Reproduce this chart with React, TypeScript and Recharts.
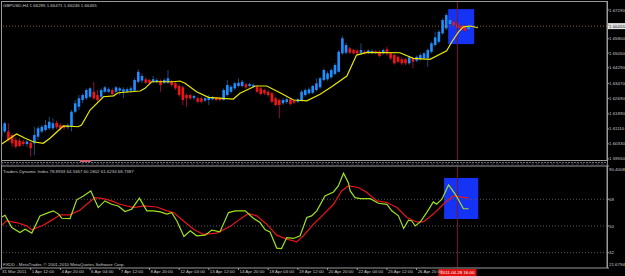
import React from 'react'
import { ComposedChart, Bar, Line, XAxis, YAxis, ReferenceArea, ReferenceLine } from 'recharts'

// GBPUSD H4 candles, 31 Mar 2011 -> 28 Apr 2011
const opens = [
  1.6070, 1.6097, 1.6097, 1.6079, 1.6053, 1.6050, 1.6045, 1.6032, 1.6039, 1.6036,
  1.6070, 1.6097, 1.6105, 1.6114, 1.6114, 1.6143, 1.6131, 1.6126, 1.6119, 1.6126,
  1.6200, 1.6226, 1.6261, 1.6270, 1.6278, 1.6304, 1.6287, 1.6278, 1.6304, 1.6304,
  1.6313, 1.6304, 1.6310, 1.6304, 1.6304, 1.6310, 1.6310, 1.6356, 1.6362, 1.6369,
  1.6365, 1.6355, 1.6355, 1.6362, 1.6351, 1.6351, 1.6356, 1.6348, 1.6334, 1.6327,
  1.6287, 1.6287, 1.6272, 1.6270, 1.6270, 1.6258, 1.6261, 1.6265, 1.6272, 1.6270,
  1.6261, 1.6287, 1.6304, 1.6322, 1.6334, 1.6334, 1.6343, 1.6334, 1.6330, 1.6330,
  1.6322, 1.6313, 1.6304, 1.6296, 1.6270, 1.6261, 1.6244, 1.6251, 1.6265, 1.6258,
  1.6252, 1.6261, 1.6287, 1.6296, 1.6299, 1.6313, 1.6327, 1.6365, 1.6369, 1.6379,
  1.6396, 1.6408, 1.6504, 1.6507, 1.6530, 1.6521, 1.6518, 1.6507, 1.6512, 1.6507,
  1.6507, 1.6514, 1.6512, 1.6504, 1.6525, 1.6504, 1.6495, 1.6486, 1.6473, 1.6473,
  1.6452, 1.6478, 1.6466, 1.6473, 1.6478, 1.6478, 1.6512, 1.6547, 1.6564, 1.6608,
  1.6634, 1.6656, 1.6668, 1.6660, 1.6646, 1.6646, 1.66295,
]
const highs = [
  1.6131, 1.6148, 1.6140, 1.6088, 1.6070, 1.6062, 1.6053, 1.6053, 1.6045, 1.6122,
  1.6126, 1.6131, 1.6157, 1.6174, 1.6166, 1.6154, 1.6140, 1.6133, 1.6140, 1.6209,
  1.6261, 1.6287, 1.6296, 1.6322, 1.6327, 1.6356, 1.6313, 1.6322, 1.6334, 1.6327,
  1.6322, 1.6334, 1.6330, 1.6327, 1.6327, 1.6334, 1.6374, 1.6421, 1.6400, 1.6379,
  1.6372, 1.6386, 1.6374, 1.6369, 1.6374, 1.6417, 1.6365, 1.6356, 1.6344, 1.6334,
  1.6296, 1.6296, 1.6289, 1.6278, 1.6278, 1.6278, 1.6287, 1.6282, 1.6278, 1.6278,
  1.6322, 1.6365, 1.6339, 1.6356, 1.6374, 1.6365, 1.6351, 1.6351, 1.6348, 1.6339,
  1.6330, 1.6320, 1.6313, 1.6303, 1.6278, 1.6268, 1.6270, 1.6275, 1.6272, 1.6265,
  1.6272, 1.6313, 1.6322, 1.6327, 1.6339, 1.6374, 1.6382, 1.6426, 1.6410, 1.6427,
  1.6452, 1.6521, 1.6594, 1.6559, 1.6538, 1.6528, 1.6525, 1.6556, 1.6521, 1.6525,
  1.6525, 1.6521, 1.6521, 1.6528, 1.6538, 1.6512, 1.6504, 1.6493, 1.6483, 1.6479,
  1.6490, 1.6486, 1.6493, 1.6504, 1.6512, 1.6530, 1.6564, 1.6616, 1.6625, 1.6686,
  1.6712, 1.6686, 1.6677, 1.6667, 1.6653, 1.6653, 1.66471,
]
const lows = [
  1.6062, 1.6088, 1.6045, 1.6018, 1.6010, 1.6015, 1.6022, 1.6018, 1.5966, 1.5975,
  1.6053, 1.6088, 1.6097, 1.6105, 1.6105, 1.6109, 1.6102, 1.6105, 1.6109, 1.6097,
  1.6192, 1.6209, 1.6244, 1.6261, 1.6270, 1.6261, 1.6252, 1.6270, 1.6296, 1.6296,
  1.6287, 1.6296, 1.6287, 1.6270, 1.6296, 1.6299, 1.6304, 1.6348, 1.6348, 1.6344,
  1.6344, 1.6348, 1.6348, 1.6304, 1.6344, 1.6344, 1.6330, 1.6313, 1.6278, 1.6235,
  1.6226, 1.6261, 1.6261, 1.6244, 1.6244, 1.6251, 1.6235, 1.6258, 1.6254, 1.6254,
  1.6258, 1.6278, 1.6296, 1.6313, 1.6327, 1.6327, 1.6320, 1.6327, 1.6323, 1.6296,
  1.6285, 1.6287, 1.6278, 1.6244, 1.6230, 1.6166, 1.6235, 1.6240, 1.6233, 1.6240,
  1.6244, 1.6254, 1.6278, 1.6289, 1.6292, 1.6306, 1.6320, 1.6358, 1.6362, 1.6372,
  1.6389, 1.6403, 1.6495, 1.6500, 1.6500, 1.6497, 1.6497, 1.6495, 1.6497, 1.6500,
  1.6500, 1.6500, 1.6483, 1.6497, 1.6493, 1.6469, 1.6445, 1.6452, 1.6443, 1.6441,
  1.6445, 1.6426, 1.6459, 1.6466, 1.6469, 1.6434, 1.6504, 1.6538, 1.6556, 1.6601,
  1.6625, 1.6649, 1.6642, 1.6628, 1.6622, 1.6615, 1.66246,
]
const closes = [
  1.6122, 1.6140, 1.6053, 1.6036, 1.6018, 1.6022, 1.6032, 1.6045, 1.6010, 1.6079,
  1.6114, 1.6122, 1.6131, 1.6148, 1.6140, 1.6119, 1.6114, 1.6116, 1.6129, 1.6200,
  1.6244, 1.6270, 1.6287, 1.6313, 1.6322, 1.6270, 1.6261, 1.6313, 1.6327, 1.6317,
  1.6292, 1.6327, 1.6322, 1.6317, 1.6317, 1.6322, 1.6365, 1.6408, 1.6386, 1.6351,
  1.6351, 1.6369, 1.6365, 1.6339, 1.6365, 1.6374, 1.6339, 1.6322, 1.6287, 1.6261,
  1.6270, 1.6270, 1.6282, 1.6252, 1.6252, 1.6270, 1.6278, 1.6275, 1.6261, 1.6261,
  1.6313, 1.6339, 1.6330, 1.6348, 1.6351, 1.6356, 1.6327, 1.6344, 1.6339, 1.6304,
  1.6292, 1.6296, 1.6287, 1.6252, 1.6235, 1.6235, 1.6261, 1.6265, 1.6240, 1.6247,
  1.6265, 1.6304, 1.6313, 1.6317, 1.6334, 1.6348, 1.6374, 1.6417, 1.6400, 1.6417,
  1.6443, 1.6512, 1.6582, 1.6547, 1.6507, 1.6504, 1.6504, 1.6521, 1.6504, 1.6518,
  1.6516, 1.6507, 1.6490, 1.6521, 1.6504, 1.6478, 1.6452, 1.6460, 1.6452, 1.6452,
  1.6483, 1.6460, 1.6486, 1.6495, 1.6504, 1.6521, 1.6556, 1.6587, 1.6616, 1.6677,
  1.6703, 1.6677, 1.6651, 1.6634, 1.6628, 1.6622, 1.66455,
]

// yellow moving average (bar position, price)
const maBars = [
  0, 4.2, 6.5, 8.7, 11.4, 13.2, 16.8, 20.8, 21.7, 24, 27.6, 30.3, 31.6, 37.5, 38.8,
  40.6, 46.4, 48.2, 49.6, 52.7, 55.9, 62.6, 64.4, 68.5, 71.6, 75.2, 78.8, 82.4, 86,
  89.1, 93.2, 95.8, 98.6, 107.5, 111.1, 115.6, 120.1, 121.5, 123.3, 124.6, 126.4, 128.5,
]
const maPrices = [
  1.6030, 1.6084, 1.6062, 1.6044, 1.6036, 1.6062, 1.6126, 1.6122, 1.6131, 1.6209, 1.6278,
  1.6283, 1.6299, 1.6308, 1.6322, 1.6356, 1.6356, 1.6360, 1.6348, 1.6304, 1.6275, 1.6266,
  1.6296, 1.6334, 1.6334, 1.6299, 1.6261, 1.6257, 1.6291, 1.6330, 1.6386, 1.6495, 1.6509,
  1.6507, 1.6478, 1.6473, 1.6517, 1.6564, 1.6616, 1.6642, 1.6646, 1.6637,
]

// Traders Dynamic Index: green RSI price line and red signal line
const rsiBars = [
  0, 1.1, 2.9, 5.1, 6.5, 8.3, 10.5, 12.8, 14.1, 15.5, 16.4, 18.6, 20.4, 22.2, 24.2, 26.2,
  28, 29.8, 31.6, 33.4, 35.2, 37.3, 39.3, 41.1, 42.9, 44.7, 46, 47.4, 49.3, 51, 52.7, 55,
  56.8, 59, 61.3, 63.1, 65.8, 68, 69.8, 71.2, 72.5, 74.3, 75.6, 77, 78.8, 80.6, 82.4, 83.7,
  85.1, 87.3, 89.6, 90.9, 92.3, 93.6, 94.1, 95.4, 96.8, 99.5, 101.7, 104, 105.3, 107.1,
  108.5, 109.8, 110.7, 111.6, 113, 114.7, 116.5, 117.4, 118.8, 120.6, 122.4, 123.7, 124.6, 126,
]
const rsiValues = [
  55.7, 57.2, 49, 45.6, 47.8, 45.2, 56.8, 59, 60.2, 58, 55.2, 55, 67.6, 70.2, 73.6, 62.4,
  66.9, 64.6, 63.5, 59.7, 61.3, 68.7, 60.2, 60.2, 59.5, 58, 59, 53.4, 42.9, 46.7, 43.4, 43.8,
  47.2, 46, 59, 60.2, 60.2, 55.2, 52.3, 47.4, 46, 35.1, 34.8, 42.2, 41.6, 43.4, 55.7, 56.8,
  60.2, 70.2, 72.9, 77, 85.5, 79.2, 73.6, 69.1, 68.4, 68.4, 65.3, 64.6, 60.2, 56.8,
  48.3, 53.9, 53.4, 50, 52.7, 59, 66.2, 64.6, 68, 77.6, 71.4, 65.8, 61.6, 61.6,
]
const signalBars = [
  0, 1.5, 4.2, 6.9, 8.3, 11.4, 14.1, 15.9, 18.6, 21.3, 23.1, 25.3, 27.6, 29.8, 32.1, 35.7,
  38.4, 42, 44.7, 46.5, 49.2, 51.9, 54.5, 58.1, 61.7, 64.4, 66.7, 68.9, 71.6, 74.3, 77,
  79.7, 81.5, 84.2, 86, 89.6, 91.8, 93.6, 96.3, 98.6, 101.3, 104, 106.7, 109.4, 112, 113.8,
  116.5, 119.2, 121.9, 123.7, 126,
]
const signalValues = [
  50.1, 53.4, 52.3, 50.1, 47.4, 50.5, 54.6, 57.5, 57.5, 60.8, 64.6, 69.1, 68.4, 66.9, 64.6, 62.4,
  63.5, 62.8, 60.2, 59, 53.4, 47.8, 44.3, 45.2, 49.6, 54.6, 58.4, 56.8, 51.2, 43.8, 41.1,
  39.3, 43.4, 51.2, 55.5, 64.6, 73.6, 77, 75.9, 72.5, 66.9, 65.8, 62.4, 55.7, 52.7, 52.7,
  58, 64.6, 70.2, 69.6, 68.7,
]

const priceTicks = [1.5955, 1.6033, 1.6111, 1.6189, 1.6269, 1.6347, 1.6429, 1.6505, 1.658, 1.6651, 1.6729]
const tdiTicks = [21.6794, 32, 50, 68, 90.4008]
const tdiLevels = [32, 50, 68]
const timeTicks = [0, 8, 16, 24, 32, 40, 48, 56, 64, 72, 80, 88, 96, 104, 112]
const timeLabels = [
  '31 Mar 2011', '1 Apr 12:00', '4 Apr 20:00', '6 Apr 04:00', '7 Apr 12:00', '8 Apr 20:00',
  '12 Apr 04:00', '13 Apr 12:00', '14 Apr 20:00', '18 Apr 04:00', '19 Apr 12:00',
  '20 Apr 20:00', '22 Apr 04:00', '25 Apr 12:00', '26 Apr 20:00',
]
const cursorBar = 123
const cursorLabel = '2011.04.28 16:00'
const lastPrice = 1.66455

const chartTitle = 'GBPUSD,H4  1.66295 1.66471 1.66246 1.66455'
const tdiTitle = 'Traders Dynamic Index 78.8933 64.5367 60.1802 61.6234 68.7387'
const footer = 'FXDD - MetaTrader, \u00a9 2001-2010 MetaQuotes Software Corp.'

const candles = opens.map((o, i) => ({ i, o, h: highs[i], l: lows[i], c: closes[i] }))
const maData = maBars.map((i, k) => ({ i, v: maPrices[k] }))
const rsiData = rsiBars.map((i, k) => ({ i, v: rsiValues[k] }))
const signalData = signalBars.map((i, k) => ({ i, v: signalValues[k] }))

const FONT = '"Liberation Sans", Arial, sans-serif'
const FS = 4.4
const TEXT = '#c8c8c8'
const FRAME = '#9a9a9a'
const HILITE = '#1533f5'
const xDomain: [number, number] = [0, 163.3]

function Candle(props: any) {
  const { x, y, width, height, payload } = props
  if (x == null || y == null || !payload) return null
  const top = Math.min(y, y + height)
  const h = Math.abs(height)
  const cx = x + width / 2
  const span = payload.h - payload.l || 1
  const toY = (v: number) => top + ((payload.h - v) / span) * h
  const up = payload.c >= payload.o
  const bTop = toY(Math.max(payload.o, payload.c))
  const bBot = toY(Math.min(payload.o, payload.c))
  return (
    <g>
      <line x1={cx} x2={cx} y1={top} y2={top + h} stroke={up ? '#1d4a80' : '#8c1035'} strokeWidth={1} />
      <rect x={cx - 1.3} y={bTop} width={2.6} height={Math.max(bBot - bTop, 1)} fill={up ? '#1e8fff' : '#f01414'} />
    </g>
  )
}

function PriceTick({ x, y, payload }: any) {
  return (
    <text x={x} y={y + 1.6} fill={TEXT} fontSize={FS} fontFamily={FONT}>
      {payload.value.toFixed(5)}
    </text>
  )
}

function TdiTick({ x, y, payload }: any) {
  const v = payload.value
  const dy = v === tdiTicks[tdiTicks.length - 1] ? 4.6 : v === tdiTicks[0] ? -1.6 : 1.6
  const label = Number.isInteger(v) ? String(v) : v.toFixed(4)
  return (
    <text x={x} y={y + dy} fill={TEXT} fontSize={FS} fontFamily={FONT}>
      {label}
    </text>
  )
}

function TimeTick({ x, y, payload }: any) {
  const label = timeLabels[timeTicks.indexOf(payload.value)]
  return (
    <text x={x + 1} y={y + 3} fill={TEXT} fontSize={FS} fontFamily={FONT}>
      {label}
    </text>
  )
}

function PriceLabel({ viewBox }: any) {
  if (!viewBox) return null
  const x = viewBox.x + viewBox.width + 1
  return (
    <g>
      <rect x={x} y={viewBox.y - 3} width={18} height={6} fill="#e6e6e6" />
      <text x={x + 1} y={viewBox.y + 1.6} fill="#000" fontSize={FS} fontFamily={FONT}>
        {lastPrice.toFixed(5)}
      </text>
    </g>
  )
}

function CursorTimeLabel({ viewBox }: any) {
  if (!viewBox) return null
  const cx = viewBox.x
  const y = viewBox.y + viewBox.height + 1
  return (
    <g>
      <rect x={cx - 19} y={y} width={38} height={7} fill="#e01010" />
      <text x={cx} y={y + 4.8} textAnchor="middle" fill="#ffffff" fontSize={FS} fontFamily={FONT}>
        {cursorLabel}
      </text>
    </g>
  )
}

export default function App() {
  return (
    <div style={{ position: 'absolute', left: 0, top: 0, width: 625, height: 276, background: '#000', overflow: 'hidden' }}>
      <div style={{ position: 'absolute', left: 0, top: 0 }}>
        <ComposedChart width={625} height={162} data={candles} margin={{ top: 2, right: 0, bottom: 2, left: 1 }}>
          <XAxis type="number" dataKey="i" domain={xDomain} allowDataOverflow hide />
          <YAxis
            orientation="right"
            width={18}
            domain={[1.5949, 1.6771]}
            ticks={priceTicks}
            interval={0}
            allowDataOverflow
            tickSize={2}
            tickMargin={0}
            tick={<PriceTick />}
            tickLine={{ stroke: FRAME }}
            axisLine={{ stroke: FRAME }}
          />
          <ReferenceArea x1={120.5} x2={127.5} y1={1.6552} y2={1.6734} fill={HILITE} fillOpacity={1} stroke="none" />
          <ReferenceLine y={lastPrice} stroke="#8a6a20" strokeDasharray="1 2" label={<PriceLabel />} />
          <ReferenceLine x={cursorBar} stroke="#7a1436" />
          <Bar dataKey={(d: any) => [d.l, d.h]} shape={<Candle />} barSize={3} isAnimationActive={false} />
          <Line data={maData} dataKey="v" type="linear" stroke="#e8e800" strokeWidth={1.2} dot={false} isAnimationActive={false} />
        </ComposedChart>
      </div>
      <div style={{ position: 'absolute', left: 0, top: 160 }}>
        <ComposedChart width={625} height={116} margin={{ top: 6, right: 0, bottom: 0, left: 1 }}>
          <XAxis
            type="number"
            dataKey="i"
            domain={xDomain}
            allowDataOverflow
            ticks={timeTicks}
            interval={0}
            height={8}
            tickSize={2}
            tickMargin={0}
            tick={<TimeTick />}
            tickLine={{ stroke: FRAME }}
            axisLine={{ stroke: FRAME }}
          />
          <YAxis
            orientation="right"
            width={18}
            domain={[21.6794, 90.4008]}
            ticks={tdiTicks}
            interval={0}
            allowDataOverflow
            tickSize={2}
            tickMargin={0}
            tick={<TdiTick />}
            tickLine={{ stroke: FRAME }}
            axisLine={{ stroke: FRAME }}
          />
          <ReferenceArea x1={119.4} x2={128.6} y1={54.7} y2={82.3} fill={HILITE} fillOpacity={1} stroke="none" />
          {tdiLevels.map(v => (
            <ReferenceLine key={v} y={v} stroke="#55555f" strokeDasharray="1 2" />
          ))}
          <ReferenceLine x={cursorBar} stroke="#7a1436" label={<CursorTimeLabel />} />
          <Line data={signalData} dataKey="v" type="linear" stroke="#e8141e" strokeWidth={1.2} dot={false} isAnimationActive={false} />
          <Line data={rsiData} dataKey="v" type="linear" stroke="#a0e020" strokeWidth={1.2} dot={false} isAnimationActive={false} />
        </ComposedChart>
      </div>
      <svg width={625} height={276} style={{ position: 'absolute', left: 0, top: 0, pointerEvents: 'none' }}>
        <line x1={1.5} x2={1.5} y1={1} y2={268} stroke={FRAME} />
        <line x1={1} x2={607.5} y1={1.5} y2={1.5} stroke={FRAME} />
        <line x1={607.5} x2={607.5} y1={1} y2={268} stroke={FRAME} />
        <line x1={1} x2={607.5} y1={160.5} y2={160.5} stroke={FRAME} />
        <line x1={1} x2={607.5} y1={162.5} y2={162.5} stroke="#6a6a7a" strokeDasharray="2 1" />
        <line x1={1} x2={607.5} y1={164} y2={164} stroke="#3a3a50" strokeDasharray="3 2" />
        <rect x={80} y={160} width={11} height={2} fill="#d06070" />
        <line x1={1} x2={607.5} y1={166} y2={166} stroke={FRAME} />
        <text x={3} y={7} fill={TEXT} fontSize={FS} fontFamily={FONT}>{chartTitle}</text>
        <text x={3} y={173} fill={TEXT} fontSize={FS} fontFamily={FONT}>{tdiTitle}</text>
        <text x={3} y={265.5} fill={TEXT} fontSize={FS} fontFamily={FONT}>{footer}</text>
      </svg>
    </div>
  )
}
